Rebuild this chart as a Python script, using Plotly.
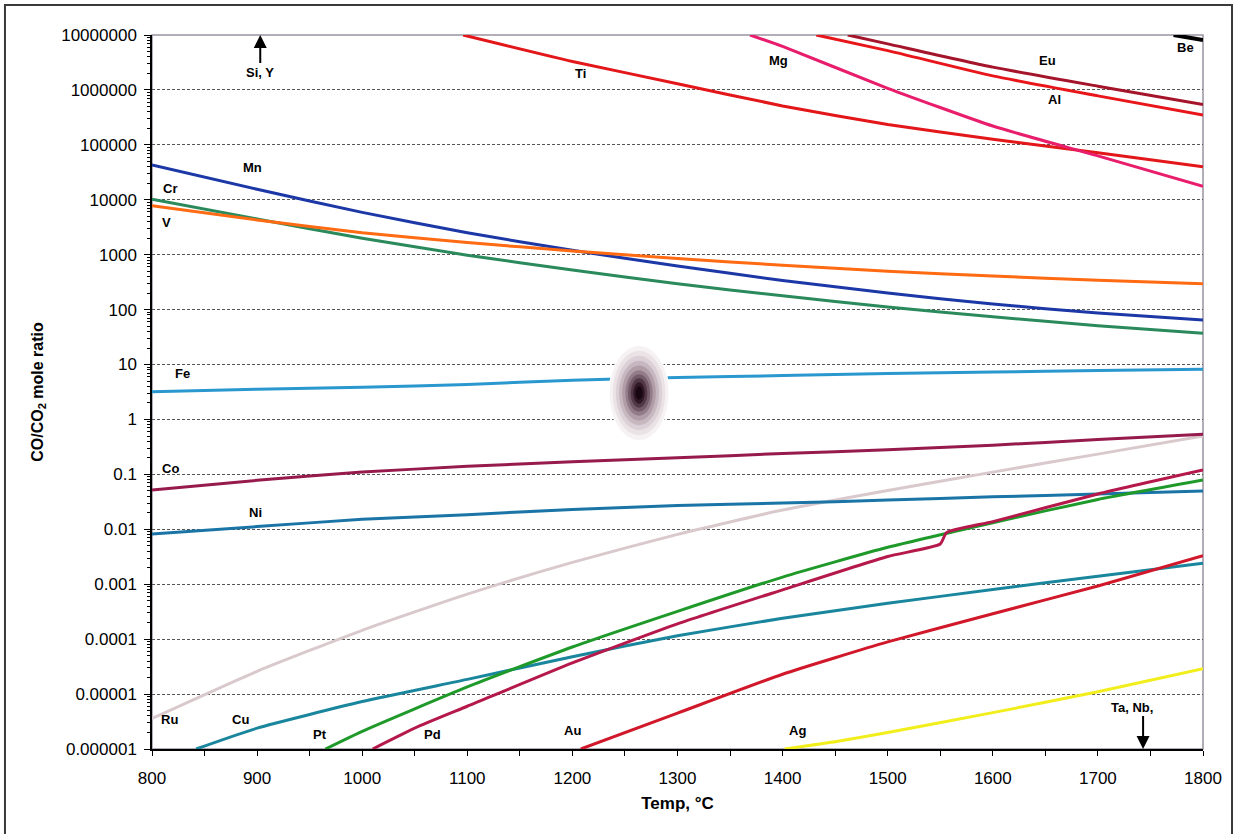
import numpy as np
import plotly.graph_objects as go

FONT = "Liberation Sans, Arial, sans-serif"

# ---------------- data ----------------
TEMP = [800, 900, 1000, 1100, 1200, 1300, 1400, 1500, 1600, 1700, 1800]

mn = [43000, 15500, 5900, 2500, 1200, 620, 340, 200, 126, 87, 65]
cr = [10200, 4470, 2000, 980, 525, 295, 178, 112, 74, 51, 37]
v = [7800, 4300, 2500, 1660, 1170, 850, 645, 500, 410, 343, 295]
fe = [3.2, 3.55, 3.85, 4.35, 5.2, 5.8, 6.3, 6.85, 7.3, 7.8, 8.2]
co = [0.052, 0.078, 0.11, 0.14, 0.17, 0.20, 0.24, 0.28, 0.34, 0.43, 0.54]
ni = [0.0082, 0.0112, 0.0152, 0.0185, 0.023, 0.027, 0.030, 0.034, 0.039, 0.044, 0.050]
ru = [3.6e-6, 2.6e-5, 1.45e-4, 6.6e-4, 2.5e-3, 8.1e-3, 0.0224, 0.051, 0.11, 0.234, 0.50]

cu_T = [842, 900, 1000, 1100, 1200, 1300, 1400, 1500, 1600, 1700, 1800]
cu = [1e-6, 2.4e-6, 7.3e-6, 1.85e-5, 4.8e-5, 1.15e-4, 2.4e-4, 4.5e-4, 8e-4, 1.4e-3, 2.4e-3]

pt_T = [965, 1000, 1100, 1200, 1300, 1400, 1500, 1600, 1700, 1800]
pt = [1e-6, 2.1e-6, 1.35e-5, 7.2e-5, 3.2e-4, 1.35e-3, 4.7e-3, 0.0132, 0.035, 0.079]

pd_T = [1010, 1054, 1100, 1200, 1300, 1400, 1500, 1550, 1556, 1600, 1700, 1800]
pd_ = [1e-6, 2.6e-6, 6e-6, 3.7e-5, 1.9e-4, 7.9e-4, 3.2e-3, 5.4e-3, 8.7e-3, 0.0138, 0.044, 0.12]

au_T = [1208, 1300, 1400, 1500, 1600, 1700, 1800]
au = [1e-6, 4.5e-6, 2.3e-5, 8.9e-5, 2.9e-4, 9.3e-4, 3.3e-3]

ag_T = [1402, 1454, 1500, 1600, 1700, 1800]
ag = [1e-6, 1.4e-6, 2e-6, 4.6e-6, 1.1e-5, 2.9e-5]

ti_T = [1096, 1200, 1300, 1400, 1500, 1600, 1700, 1800]
ti = [1e7, 3.3e6, 1.3e6, 5.1e5, 2.35e5, 1.26e5, 7.2e4, 4e4]

mg_T = [1369, 1400, 1500, 1600, 1700, 1800]
mg = [1e7, 6.2e6, 1.07e6, 2.2e5, 6.3e4, 1.75e4]

al_T = [1432, 1500, 1600, 1700, 1800]
al = [1e7, 5.2e6, 1.8e6, 7.8e5, 3.5e5]

eu_T = [1462, 1500, 1600, 1700, 1800]
eu = [1e7, 6.9e6, 2.6e6, 1.17e6, 5.4e5]

be_T = [1772, 1800]
be = [1e7, 8.1e6]

# curve labels: text, temperature, ratio
label_text = ["Mn", "Cr", "V", "Fe", "Co", "Ni", "Ru", "Cu", "Pt", "Pd", "Au", "Ag",
              "Ti", "Mg", "Eu", "Al", "Be"]
label_T = [896, 817, 814, 829, 818, 898, 817, 884, 960, 1067, 1200, 1414,
           1208, 1396, 1652, 1659, 1783]
label_val = [3.8e4, 1.6e4, 3.9e3, 6.8, 0.13, 0.02, 3.4e-6, 3.4e-6, 1.8e-6, 1.8e-6, 2.2e-6, 2.2e-6,
             2.0e6, 3.4e6, 3.5e6, 6.6e5, 5.8e6]

# arrowed notes: text, temperature and ratio of the arrow head, text offset (px)
arrow_text = ["Si, Y", "Ta, Nb,"]
arrow_T = [903, 1743]
arrow_val = [1e7, 1e-6]
arrow_ay = [37, -42]

y_tickvals = [1e-6, 1e-5, 1e-4, 1e-3, 1e-2, 1e-1, 1, 10, 100, 1000, 1e4, 1e5, 1e6, 1e7]
y_ticktext = ["0.000001", "0.00001", "0.0001", "0.001", "0.01", "0.1", "1", "10", "100",
              "1000", "10000", "100000", "1000000", "10000000"]
x_tickvals = [800, 900, 1000, 1100, 1200, 1300, 1400, 1500, 1600, 1700, 1800]

# ---------------- figure ----------------
series = [
    ("Ru", TEMP, ru, "#d9c9cc", 3),
    ("Mn", TEMP, mn, "#1c37a6", 3),
    ("Cr", TEMP, cr, "#2a8a5c", 3),
    ("V", TEMP, v, "#ff6a12", 3),
    ("Fe", TEMP, fe, "#2a98cf", 3),
    ("Co", TEMP, co, "#961a4c", 3),
    ("Ni", TEMP, ni, "#1a74a6", 3),
    ("Cu", cu_T, cu, "#1a869e", 3),
    ("Pt", pt_T, pt, "#1f9a2a", 3),
    ("Pd", pd_T, pd_, "#b5184a", 3),
    ("Au", au_T, au, "#d0182a", 3),
    ("Ag", ag_T, ag, "#f2ee1c", 3),
    ("Ti", ti_T, ti, "#e3161a", 3),
    ("Mg", mg_T, mg, "#e81e6c", 3),
    ("Al", al_T, al, "#e8161a", 3),
    ("Eu", eu_T, eu, "#a4142a", 3),
    ("Be", be_T, be, "#000000", 4),
]

fig = go.Figure()
for name, xs, ys, col, w in series:
    fig.add_trace(go.Scatter(x=xs, y=ys, mode="lines", name=name,
                             line=dict(color=col, width=w, shape="spline", smoothing=0.5),
                             hoverinfo="x+y+name"))

annotations = []
for t, xv, yv in zip(label_text, label_T, label_val):
    annotations.append(dict(x=xv, y=np.log10(yv), xref="x", yref="y", text="<b>%s</b>" % t,
                            showarrow=False, font=dict(family=FONT, size=13, color="black")))
for t, xv, yv, ay in zip(arrow_text, arrow_T, arrow_val, arrow_ay):
    txt = "<b>%s</b>" % t
    if ay < 0:
        txt += "&nbsp;" * 6
    annotations.append(dict(x=xv, y=np.log10(yv), xref="x", yref="y", text=txt,
                            font=dict(family=FONT, size=13, color="black"),
                            showarrow=True, ax=0, ay=ay, arrowhead=2, arrowsize=1.3,
                            arrowwidth=2, arrowcolor="black", standoff=0))

shapes = [
    # plot frame (top/right in grey)
    dict(type="rect", xref="paper", yref="paper", x0=0, y0=0, x1=1, y1=1,
         line=dict(color="#9a93a0", width=1.5), layer="below"),
    # page frame
    dict(type="rect", xref="paper", yref="paper", x0=-0.1399, y0=-0.25, x1=1.0276, y1=1.042,
         line=dict(color="#3a3a3a", width=2)),
]
# scan smudge in the middle of the page
blob = [(0.058, 0.136, "rgba(255,255,255,1)"),
        (0.056, 0.132, "rgba(225,212,218,0.30)"),
        (0.050, 0.118, "rgba(205,188,196,0.30)"),
        (0.044, 0.104, "rgba(185,165,175,0.30)"),
        (0.038, 0.090, "rgba(160,135,148,0.32)"),
        (0.032, 0.077, "rgba(135,105,120,0.35)"),
        (0.026, 0.064, "rgba(105,75,92,0.40)"),
        (0.021, 0.052, "rgba(80,50,66,0.45)"),
        (0.016, 0.041, "rgba(55,28,44,0.55)"),
        (0.011, 0.030, "rgba(35,12,25,0.7)"),
        (0.007, 0.019, "rgba(20,5,14,0.85)")]
for w, h, c in blob:
    shapes.append(dict(type="circle", xref="x domain", yref="y domain",
                       x0=0.4634 - w / 2, x1=0.4634 + w / 2, y0=0.4986 - h / 2, y1=0.4986 + h / 2,
                       fillcolor=c, line=dict(width=0), layer="above"))

fig.update_layout(
    width=1236, height=834,
    margin=dict(l=152, r=33, t=35, b=85),
    paper_bgcolor="white", plot_bgcolor="white",
    showlegend=False,
    font=dict(family=FONT, size=17, color="black"),
    annotations=annotations,
    shapes=shapes,
    xaxis=dict(
        range=[800, 1800], tickvals=x_tickvals, ticktext=[str(t) for t in x_tickvals],
        showgrid=False, zeroline=False,
        showline=True, linecolor="black", linewidth=1.5,
        ticks="outside", ticklen=5, tickcolor="black", tickwidth=1,
        ticklabelstandoff=8,
        minor=dict(ticks="outside", ticklen=5, tickcolor="black", dtick=50, tick0=800, showgrid=False),
        title=dict(text="<b>Temp, °C</b>", font=dict(family=FONT, size=17), standoff=10),
    ),
    yaxis=dict(
        type="log", range=[-6, 7],
        tickmode="array", tickvals=y_tickvals, ticktext=y_ticktext,
        showgrid=True, gridcolor="#555555", gridwidth=1, griddash="3px,2px",
        zeroline=False,
        showline=True, linecolor="black", linewidth=1.5,
        ticks="outside", ticklen=6, tickcolor="black", tickwidth=1,
        ticklabelstandoff=4,
        minor=dict(ticks="outside", ticklen=3, tickcolor="black", dtick="D1", showgrid=False),
        title=dict(text="<b>CO/CO<sub>2</sub> mole ratio</b>", font=dict(family=FONT, size=16), standoff=14),
    ),
)

fig.write_html("out.html")
